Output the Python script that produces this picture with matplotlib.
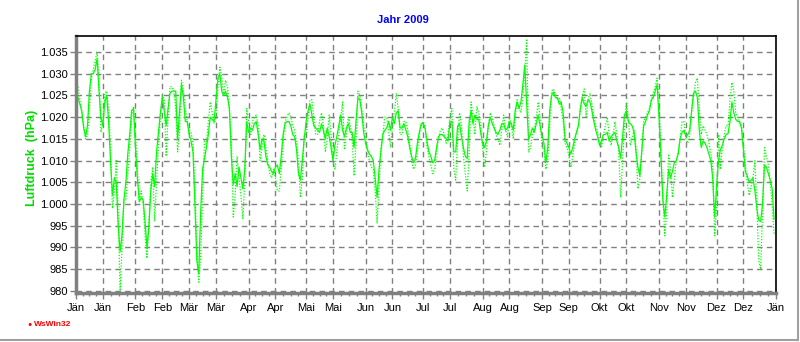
import datetime
import matplotlib
matplotlib.use("Agg")
import matplotlib.pyplot as plt
import matplotlib.dates as mdates
from matplotlib.ticker import FuncFormatter, FixedLocator
from matplotlib.lines import Line2D

plt.rcParams['font.family'] = ['Liberation Sans', 'DejaVu Sans']

# --- Daten: Luftdruck 2009, Tageswerte (hPa) ---
luftdruck = [
    1026, 1024.5, 1023, 1021.5, 1017.5, 1015.5, 1018, 1026, 1030, 1030,
    1031, 1033.5, 1026, 1020, 1018, 1023.5, 1025, 1019, 1010, 1002,
    1006, 1005, 995, 989, 993, 1001, 1005, 1011.5, 1016, 1021.5,
    1022, 1013, 1006, 1000.5, 1001.5, 1001, 996, 990, 994.5, 1003,
    1007, 1004, 1012, 1016.5, 1021, 1024.5, 1021.5, 1018, 1022, 1025.5,
    1026, 1026, 1026, 1015, 1021.5, 1027.5, 1024.5, 1019, 1019, 1016,
    1014.5, 1012, 1000, 987, 984, 998, 1008, 1010.5, 1013, 1016,
    1020, 1019.5, 1019, 1024, 1029, 1030, 1026, 1025, 1026, 1024.5,
    1022, 1011, 1004.5, 1007, 1004, 1008.5, 1006, 1003.5, 1008, 1019,
    1016.5, 1017.5, 1017, 1018.5, 1019, 1016, 1012.5, 1015, 1014.5, 1011,
    1009, 1008.5, 1007.5, 1007, 1008.5, 1009, 1007, 1011, 1016, 1018.5,
    1019, 1019, 1018, 1016, 1015.5, 1012.5, 1007, 1005.5, 1010, 1015,
    1019, 1021.5, 1023, 1020.5, 1018, 1017.5, 1017, 1016.5, 1018.5, 1017,
    1015, 1017.5, 1015.5, 1013, 1010, 1013.5, 1015.5, 1018, 1020.5, 1017,
    1015.5, 1017.5, 1018.5, 1016.5, 1016.5, 1013, 1019, 1024.5, 1024, 1021,
    1016.5, 1014, 1012.5, 1011.5, 1011, 1010, 1006, 1001.5, 1008, 1012,
    1016, 1017, 1017.5, 1019, 1017, 1020, 1018.5, 1021, 1021.5, 1017.5,
    1017.5, 1018.5, 1017, 1015.5, 1013, 1011, 1009.5, 1010.5, 1014, 1016.5,
    1018.5, 1018.5, 1017.5, 1014.5, 1012, 1011, 1009.5, 1010, 1013, 1015.5,
    1016, 1016, 1015.5, 1015, 1014.5, 1019, 1019, 1012, 1012, 1018,
    1018.5, 1015.5, 1013, 1011, 1010.5, 1019, 1021.5, 1018.5, 1020.5, 1019.5,
    1019.5, 1016.5, 1014, 1013, 1014.5, 1018, 1020, 1018.5, 1017.5, 1016.5,
    1016, 1017, 1018.5, 1018.5, 1017, 1017.5, 1019, 1018.5, 1017, 1021.5,
    1023.5, 1022, 1023.5, 1027.5, 1032, 1023, 1015, 1016, 1017.5, 1016.5,
    1018.5, 1020.5, 1018, 1015.5, 1014, 1009.5, 1013, 1021.5, 1025, 1025.8,
    1024.5, 1024.5, 1023, 1023.5, 1021, 1015, 1014, 1013, 1011.5, 1013,
    1015, 1016.5, 1018, 1022, 1024.5, 1023, 1022.5, 1024, 1023.5, 1021.5,
    1019, 1017, 1015.5, 1013.5, 1014.5, 1016, 1016, 1016.5, 1014.5, 1015.5,
    1016, 1016.5, 1014.5, 1013, 1010.5, 1015.5, 1020.5, 1021.5, 1019, 1018.5,
    1018, 1016.5, 1012, 1008.5, 1006.5, 1012, 1018, 1019, 1020.5, 1021.5,
    1024, 1024.5, 1026, 1027.5, 1020, 1011, 1001, 997, 1002, 1008,
    1006, 1007.5, 1009.5, 1010, 1011.5, 1015, 1016.5, 1017, 1015.5, 1016,
    1017, 1021.5, 1025.5, 1026, 1024.5, 1017, 1013, 1014.5, 1014, 1013,
    1011.5, 1010, 1006, 997, 1004, 1010, 1012.5, 1013.5, 1015, 1016,
    1016.2, 1019, 1023.5, 1021, 1019.5, 1019, 1019, 1017.5, 1012.5, 1007.5,
    1006.5, 1005, 1005.5, 1006, 1003, 999, 996.2, 996, 1000, 1009,
    1008.5, 1007, 1005.5, 1003.5, 996.5,
]

# zweite Kurve (punktiert)
luftdruck_2 = [
    1027.5, 1027, 1024, 1021, 1018, 1015, 1016, 1022, 1029, 1031,
    1033, 1035, 1029, 1016.5, 1019, 1025.5, 1026, 1022, 1013, 999,
    1003, 1010, 998, 980, 990, 1001, 1001, 1007, 1013, 1020,
    1022.5, 1016, 1008, 1001, 1003, 1000, 993, 987.5, 996, 1005,
    1008.5, 996, 1005, 1014, 1020, 1025, 1024, 1011, 1020, 1027,
    1027, 1026, 1022, 1012, 1017, 1028.5, 1026, 1022, 1019, 1017,
    1016.5, 1014, 1004, 990, 982, 988, 1002, 1014.5, 1014, 1019,
    1023.5, 1021, 1018.5, 1020, 1027, 1031.5, 1029, 1025, 1028.5, 1027,
    1021.5, 1015, 997, 1002, 1011, 1006, 1002, 996.5, 1005, 1022,
    1019, 1016, 1019, 1020, 1020.5, 1018, 1010, 1013, 1016, 1013,
    1010, 1007, 1006, 1008, 1006, 1003, 1003, 1008, 1014, 1019,
    1020, 1021, 1020, 1018, 1017, 1014, 1010, 1001.5, 1006, 1016,
    1016, 1020, 1024, 1024, 1020, 1016, 1016, 1019, 1021, 1018,
    1012, 1015, 1020.5, 1016, 1010, 1008, 1012, 1016, 1020, 1023.5,
    1012.5, 1016, 1020, 1018, 1015, 1006.5, 1014, 1026, 1025, 1022,
    1018, 1016, 1012, 1010, 1008.5, 1008, 1003, 995.5, 1004, 1013,
    1016, 1020, 1020, 1017, 1013, 1018, 1021, 1025.5, 1022, 1016,
    1016, 1019, 1019, 1017, 1014, 1010, 1008, 1009, 1012, 1016,
    1018, 1019, 1018, 1013, 1011, 1009, 1007, 1008, 1012, 1015,
    1017, 1017.5, 1016, 1014, 1016, 1020, 1022, 1008, 1005.5, 1015,
    1021, 1018, 1011, 1007, 1003, 1012, 1023.5, 1020, 1016, 1022.5,
    1021, 1018, 1013, 1008.5, 1012, 1018, 1021, 1020, 1018, 1016,
    1015, 1013.5, 1017, 1020.5, 1017, 1015.5, 1020, 1018, 1015, 1020,
    1024, 1022, 1021, 1025, 1030, 1038, 1012, 1013, 1016, 1017,
    1020, 1023.5, 1020, 1013, 1012.5, 1008, 1010, 1018, 1026, 1026.5,
    1025, 1024, 1024.5, 1022, 1019, 1014, 1013, 1011, 1008.5, 1011,
    1014, 1017, 1018, 1022, 1025, 1026.5, 1020, 1024, 1025.5, 1023,
    1020, 1018, 1016.5, 1014, 1013, 1016, 1018, 1020, 1016, 1013.5,
    1016, 1019, 1016, 1012, 1001.5, 1010, 1018, 1023.5, 1020, 1013.5,
    1015, 1017, 1013, 1003.5, 1006, 1012, 1019, 1020, 1021, 1022,
    1024, 1025.5, 1027, 1029, 1024, 1012, 1002, 992.7, 998, 1011.5,
    1008, 1001.5, 1006, 1010, 1012, 1015, 1019, 1019, 1015, 1014,
    1016, 1021, 1025, 1028, 1029, 1022, 1016, 1018, 1017, 1016,
    1014, 1012, 1008, 992.7, 999, 1016, 1008, 1013, 1016, 1018,
    1018, 1024, 1028, 1026, 1021, 1020, 1019, 1018, 1014, 1009,
    1005, 1002, 1004, 1006, 1010, 1000, 987, 985, 998, 1013,
    1011, 1009, 1005, 1000, 993,
]

monatsnamen = ['Jän', 'Feb', 'Mär', 'Apr', 'Mai', 'Jun',
               'Jul', 'Aug', 'Sep', 'Okt', 'Nov', 'Dez']
y_ticks = [980, 985, 990, 995, 1000, 1005, 1010, 1015, 1020, 1025, 1030, 1035]

start = datetime.date(2009, 1, 1)
tage = [start + datetime.timedelta(days=i) for i in range(len(luftdruck))]
tage_2 = [start + datetime.timedelta(days=i) for i in range(len(luftdruck_2))]


def y_fmt(v, pos):
    if v >= 1000:
        return f"{v / 1000:.3f}"
    return f"{v:.0f}"


def x_fmt(v, pos):
    return monatsnamen[mdates.num2date(v).month - 1]


fig = plt.figure(figsize=(8, 3.42), dpi=100)
ax = fig.add_axes([0.095, 0.143, 0.875, 0.752])

ax.plot(tage_2, luftdruck_2, color='#00ff00', lw=0.9, linestyle=(0, (1, 1.3)))
ax.plot(tage, luftdruck, color='#00ff00', lw=0.9)

ax.set_xlim(datetime.date(2009, 1, 1), datetime.date(2010, 1, 1))
ax.set_ylim(979.5, 1038.7)

# Achsen / Ticks
major = mdates.date2num([datetime.date(2009, m, d) for m in range(1, 13) for d in (1, 15)]
                        + [datetime.date(2010, 1, 1)])
minor = []
for a, b in zip(major[:-1], major[1:]):
    minor += [a + (b - a) * k / 4 for k in (1, 2, 3)]
ax.xaxis.set_major_locator(FixedLocator(major))
ax.xaxis.set_minor_locator(FixedLocator(minor))
ax.xaxis.set_major_formatter(FuncFormatter(x_fmt))
ax.yaxis.set_major_locator(FixedLocator(y_ticks))
ax.yaxis.set_major_formatter(FuncFormatter(y_fmt))

ax.tick_params(axis='both', which='major', labelsize=8, color='#808080', length=4, width=1)
ax.tick_params(axis='x', which='minor', color='#808080', length=2, width=1)
ax.tick_params(axis='x', pad=3)
ax.tick_params(axis='y', pad=2)

ax.grid(True, which='major', color='#808080', linestyle=(0, (4, 3)), lw=1)

for s in ('left', 'bottom'):
    ax.spines[s].set_color('#808080')
    ax.spines[s].set_linewidth(2.5)
for s in ('top', 'right'):
    ax.spines[s].set_color('black')
    ax.spines[s].set_linewidth(1.2)

fig.text(0.503, 1 - 20 / 342, 'Jahr 2009', color='#0000ff', fontsize=8,
         fontweight='bold', ha='center', va='center')
fig.text(0.04, 1 - 158 / 342, 'Luftdruck  (hPa)', color='#00dd00', fontsize=9,
         fontweight='bold', rotation=90, ha='center', va='center')

# WsWin32 Logo
fig.text(0.037, 1 - 324 / 342, '\u25cf', color='red', fontsize=5, ha='center', va='center')
fig.text(0.042, 1 - 324 / 342, 'WsWin32', color='red', fontsize=6,
         fontweight='bold', ha='left', va='center')

# Fensterrahmen rechts/unten
fig.add_artist(Line2D([0.9975, 0.9975], [0.005, 1], color='#a0a0a0', lw=1.5,
                      transform=fig.transFigure))
fig.add_artist(Line2D([0, 0.9975], [0.005, 0.005], color='#a0a0a0', lw=1.5,
                      transform=fig.transFigure))

fig.savefig('out.png', dpi=100)
